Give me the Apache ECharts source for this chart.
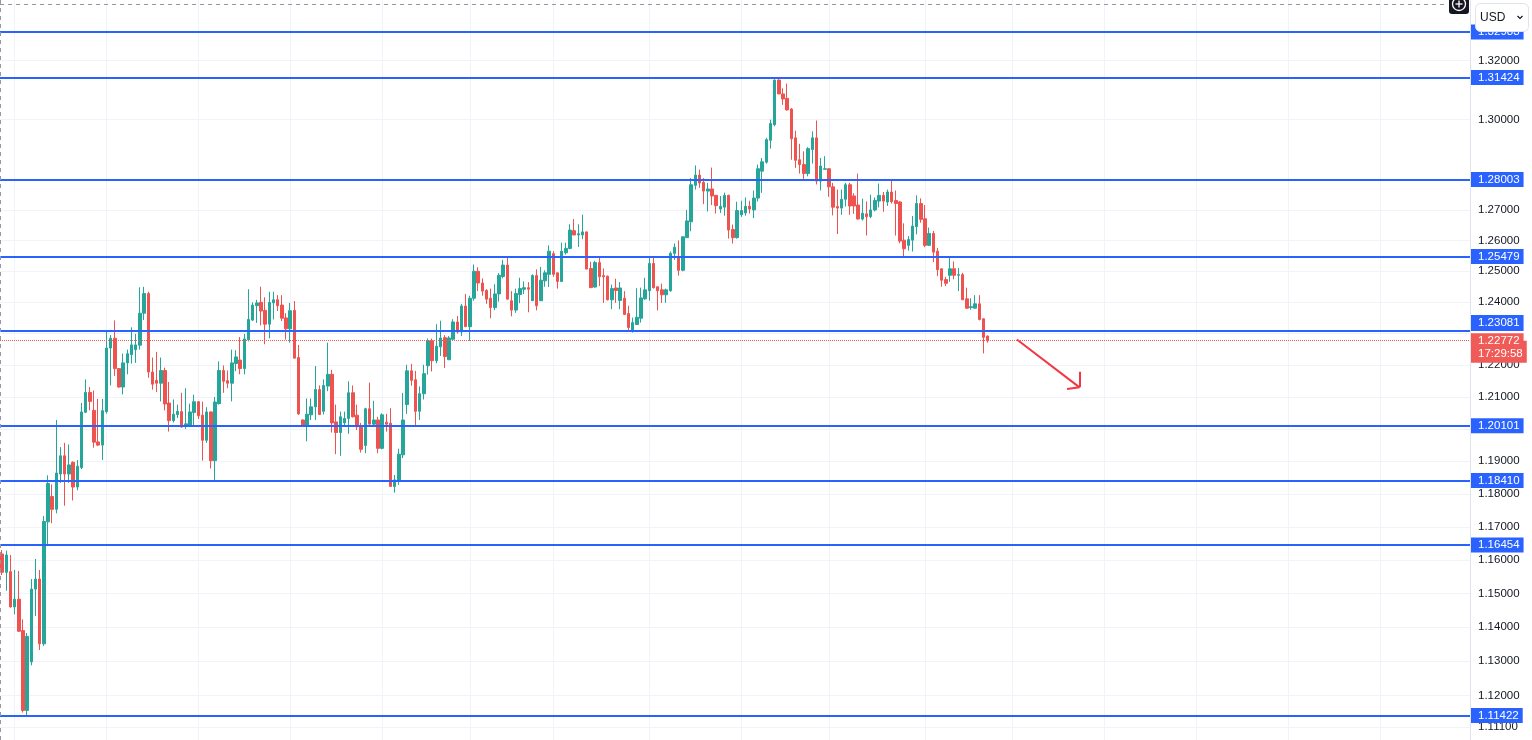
<!DOCTYPE html>
<html><head><meta charset="utf-8">
<script src="https://cdn.jsdelivr.net/npm/echarts@6/dist/echarts.min.js"></script>
<style>html,body{margin:0;padding:0;background:#fff;overflow:hidden}#c{width:1532px;height:740px}</style>
</head><body><div id="c"></div>
<script>
const opens = [1.1618,1.1563,1.1565,1.1460,1.1483,1.1390,1.1157,1.1298,1.1513,1.1543,1.1351,1.1715,1.1792,1.1753,1.1861,1.1917,1.1861,1.1897,1.1821,1.1881,
1.2052,1.2114,1.2058,1.1960,1.1950,1.2054,1.2254,1.2285,1.2189,1.2131,1.2207,1.2233,1.2249,1.2263,1.2365,1.2428,1.2178,1.2152,1.2143,1.2183,
1.2081,1.2026,1.2045,1.2054,1.2009,1.2009,1.2051,1.2085,1.2043,1.1965,1.2053,1.1902,1.2079,1.2183,1.2151,1.2143,1.2205,1.2216,1.2189,1.2280,
1.2343,1.2389,1.2400,1.2374,1.2330,1.2398,1.2408,1.2391,1.2350,1.2315,1.2374,1.2224,1.2028,1.2009,1.2044,1.2069,1.2123,1.2055,1.2134,1.2171,
1.2022,1.1989,1.2019,1.2033,1.2113,1.2043,1.2011,1.1949,1.2063,1.2015,1.2028,1.1940,1.2021,1.2018,1.1823,1.1843,1.1920,1.2076,1.2182,1.2154,
1.2055,1.2110,1.2198,1.2277,1.2214,1.2258,1.2287,1.2217,1.2282,1.2337,1.2305,1.2388,1.2322,1.2413,1.2500,1.2462,1.2438,1.2413,1.2383,1.2427,
1.2483,1.2520,1.2405,1.2375,1.2425,1.2442,1.2447,1.2405,1.2486,1.2405,1.2469,1.2490,1.2557,1.2495,1.2467,1.2560,1.2574,1.2632,1.2618,1.2618,
1.2628,1.2509,1.2449,1.2528,1.2486,1.2484,1.2408,1.2446,1.2406,1.2413,1.2364,1.2309,1.2329,1.2349,1.2411,1.2437,1.2525,1.2450,1.2440,1.2424,
1.2437,1.2558,1.2548,1.2503,1.2609,1.2661,1.2781,1.2815,1.2791,1.2762,1.2769,1.2748,1.2703,1.2709,1.2748,1.2636,1.2609,1.2684,1.2690,1.2712,
1.2700,1.2739,1.2828,1.2858,1.2931,1.2983,1.3134,1.3087,1.3072,1.3036,1.2939,1.2866,1.2850,1.2820,1.2900,1.2939,1.2795,1.2834,1.2836,1.2776,
1.2711,1.2706,1.2735,1.2783,1.2746,1.2716,1.2670,1.2687,1.2678,1.2700,1.2729,1.2748,1.2726,1.2759,1.2731,1.2726,1.2601,1.2584,1.2601,1.2645,
1.2721,1.2671,1.2584,1.2623,1.2565,1.2508,1.2473,1.2487,1.2508,1.2487,1.2489,1.2411,1.2383,1.2381,1.2395,1.2347,1.2292];
const highs = [1.1630,1.1628,1.1615,1.1570,1.1567,1.1423,1.1383,1.1543,1.1603,1.1570,1.1733,1.1857,1.1829,1.2028,1.1944,1.1957,1.1952,1.1900,1.1904,1.2081,
1.2155,1.2131,1.2120,1.2094,1.2094,1.2311,1.2295,1.2342,1.2189,1.2236,1.2249,1.2320,1.2299,1.2448,1.2450,1.2434,1.2224,1.2242,1.2224,1.2192,
1.2147,1.2092,1.2076,1.2113,1.2127,1.2079,1.2107,1.2087,1.2085,1.2068,1.2055,1.2100,1.2212,1.2199,1.2183,1.2249,1.2247,1.2289,1.2299,1.2442,
1.2400,1.2408,1.2450,1.2416,1.2434,1.2434,1.2423,1.2423,1.2365,1.2398,1.2404,1.2264,1.2030,1.2095,1.2095,1.2197,1.2136,1.2155,1.2271,1.2185,
1.2076,1.2054,1.2054,1.2149,1.2136,1.2076,1.2019,1.2066,1.2145,1.2088,1.2038,1.2049,1.2047,1.2065,1.1858,1.1939,1.2112,1.2201,1.2204,1.2182,
1.2133,1.2201,1.2284,1.2284,1.2330,1.2341,1.2295,1.2292,1.2346,1.2356,1.2395,1.2427,1.2421,1.2522,1.2513,1.2477,1.2442,1.2444,1.2458,1.2494,
1.2537,1.2546,1.2436,1.2444,1.2479,1.2467,1.2465,1.2490,1.2506,1.2514,1.2503,1.2584,1.2565,1.2495,1.2593,1.2593,1.2653,1.2670,1.2653,1.2684,
1.2628,1.2531,1.2534,1.2546,1.2509,1.2486,1.2457,1.2476,1.2465,1.2436,1.2389,1.2351,1.2445,1.2447,1.2479,1.2543,1.2543,1.2450,1.2460,1.2444,
1.2564,1.2590,1.2600,1.2612,1.2700,1.2805,1.2847,1.2833,1.2805,1.2789,1.2840,1.2748,1.2746,1.2757,1.2750,1.2652,1.2727,1.2730,1.2741,1.2730,
1.2764,1.2850,1.2872,1.2939,1.3000,1.3136,1.3137,1.3106,1.3122,1.3039,1.2963,1.2919,1.2894,1.2908,1.2961,1.2997,1.2872,1.2878,1.2838,1.2789,
1.2767,1.2767,1.2789,1.2789,1.2755,1.2820,1.2737,1.2728,1.2750,1.2741,1.2787,1.2759,1.2767,1.2800,1.2764,1.2729,1.2656,1.2614,1.2680,1.2748,
1.2738,1.2716,1.2642,1.2631,1.2576,1.2508,1.2482,1.2546,1.2532,1.2511,1.2495,1.2447,1.2413,1.2423,1.2423,1.2349,1.2294];
const lows = [1.1555,1.1508,1.1458,1.1438,1.1386,1.1151,1.1142,1.1288,1.1433,1.1333,1.1345,1.1645,1.1711,1.1741,1.1834,1.1764,1.1834,1.1780,1.1811,1.1876,
1.2050,1.2058,1.1942,1.1947,1.1904,1.2048,1.2136,1.2166,1.2129,1.2108,1.2171,1.2205,1.2207,1.2249,1.2343,1.2160,1.2123,1.2115,1.2086,1.2058,
1.1992,1.2020,1.2034,1.2004,1.2000,1.2007,1.2009,1.2031,1.1902,1.1957,1.1878,1.1841,1.2076,1.2113,1.2127,1.2086,1.2181,1.2171,1.2171,1.2275,
1.2340,1.2334,1.2326,1.2266,1.2285,1.2345,1.2372,1.2340,1.2281,1.2271,1.2222,1.2044,1.2007,1.1962,1.2028,1.2028,1.2045,1.2045,1.2118,1.1989,
1.1922,1.1917,1.2007,1.1985,1.2036,1.1997,1.1927,1.1925,1.2015,1.2007,1.1925,1.1937,1.1992,1.1823,1.1804,1.1828,1.1910,1.2047,1.2135,1.2010,
1.2028,1.2092,1.2170,1.2180,1.2206,1.2229,1.2191,1.2217,1.2279,1.2300,1.2292,1.2322,1.2277,1.2405,1.2436,1.2421,1.2395,1.2349,1.2375,1.2402,
1.2477,1.2410,1.2355,1.2366,1.2397,1.2426,1.2368,1.2405,1.2374,1.2405,1.2450,1.2449,1.2482,1.2444,1.2465,1.2554,1.2571,1.2617,1.2579,1.2604,
1.2507,1.2447,1.2447,1.2452,1.2398,1.2406,1.2378,1.2398,1.2378,1.2359,1.2305,1.2303,1.2327,1.2335,1.2408,1.2405,1.2444,1.2374,1.2398,1.2398,
1.2434,1.2537,1.2486,1.2500,1.2609,1.2630,1.2767,1.2773,1.2719,1.2695,1.2716,1.2688,1.2690,1.2681,1.2606,1.2590,1.2606,1.2677,1.2681,1.2688,
1.2673,1.2728,1.2756,1.2853,1.2903,1.2978,1.3087,1.3050,1.3031,1.2866,1.2839,1.2820,1.2798,1.2811,1.2853,1.2784,1.2764,1.2834,1.2743,1.2682,
1.2621,1.2684,1.2711,1.2684,1.2687,1.2669,1.2665,1.2616,1.2673,1.2695,1.2708,1.2694,1.2713,1.2721,1.2616,1.2591,1.2546,1.2567,1.2564,1.2620,
1.2658,1.2578,1.2584,1.2529,1.2484,1.2450,1.2452,1.2466,1.2474,1.2436,1.2408,1.2379,1.2376,1.2381,1.2342,1.2237,1.2271];
const closes = [1.1563,1.1615,1.1460,1.1483,1.1388,1.1157,1.1373,1.1513,1.1543,1.1351,1.1716,1.1832,1.1753,1.1864,1.1917,1.1861,1.1889,1.1821,1.1885,1.2053,
1.2114,1.2086,1.1959,1.1950,1.2057,1.2254,1.2285,1.2189,1.2131,1.2207,1.2236,1.2264,1.2264,1.2365,1.2428,1.2178,1.2140,1.2143,1.2183,1.2078,
1.2026,1.2046,1.2055,1.2006,1.2016,1.2053,1.2085,1.2041,1.1965,1.2053,1.1902,1.2084,1.2183,1.2149,1.2143,1.2207,1.2226,1.2189,1.2283,1.2345,
1.2391,1.2398,1.2372,1.2330,1.2400,1.2408,1.2389,1.2349,1.2315,1.2373,1.2222,1.2047,1.2009,1.2046,1.2069,1.2123,1.2045,1.2136,1.2171,1.2019,
1.1989,1.2038,1.2033,1.2113,1.2038,1.2007,1.1937,1.2063,1.2015,1.2028,1.1940,1.2044,1.2015,1.1823,1.1843,1.1922,1.2028,1.2182,1.2152,1.2055,
1.2110,1.2173,1.2277,1.2214,1.2260,1.2286,1.2227,1.2286,1.2337,1.2305,1.2388,1.2322,1.2413,1.2500,1.2462,1.2436,1.2410,1.2383,1.2427,1.2487,
1.2520,1.2410,1.2375,1.2428,1.2444,1.2447,1.2442,1.2486,1.2389,1.2471,1.2495,1.2565,1.2490,1.2467,1.2565,1.2574,1.2634,1.2618,1.2622,1.2628,
1.2507,1.2447,1.2528,1.2482,1.2482,1.2408,1.2444,1.2438,1.2446,1.2361,1.2319,1.2335,1.2352,1.2414,1.2440,1.2525,1.2447,1.2437,1.2424,1.2440,
1.2558,1.2578,1.2503,1.2612,1.2664,1.2783,1.2815,1.2789,1.2762,1.2769,1.2746,1.2714,1.2712,1.2748,1.2634,1.2609,1.2698,1.2698,1.2712,1.2703,
1.2739,1.2836,1.2859,1.2933,1.2987,1.3134,1.3087,1.3070,1.3033,1.2936,1.2864,1.2850,1.2820,1.2903,1.2939,1.2795,1.2845,1.2836,1.2776,1.2709,
1.2706,1.2735,1.2783,1.2713,1.2713,1.2670,1.2689,1.2678,1.2700,1.2731,1.2748,1.2729,1.2759,1.2727,1.2721,1.2598,1.2573,1.2603,1.2647,1.2721,
1.2669,1.2584,1.2623,1.2562,1.2505,1.2471,1.2461,1.2508,1.2487,1.2489,1.2408,1.2381,1.2386,1.2395,1.2345,1.2288,1.2277];

const levels = [1.32983, 1.31424, 1.28003, 1.25479, 1.23081, 1.20101, 1.18410, 1.16454, 1.11422];
const raisedLabelLevels = [1.23081];
const gridTicks = [1.32, 1.30, 1.28, 1.27, 1.26, 1.25, 1.24, 1.23, 1.22, 1.21, 1.20, 1.19, 1.18, 1.17, 1.16, 1.15, 1.14, 1.13, 1.12, 1.111];
const tickLabels = [1.32, 1.30, 1.27, 1.26, 1.25, 1.24, 1.22, 1.21, 1.19, 1.18, 1.17, 1.16, 1.15, 1.14, 1.13, 1.12, 1.111];
const lastPrice = 1.22772;
const countdown = '17:29:58';
const monthStartBars = [3, 25, 47, 69, 91, 112, 132, 155, 177, 198, 221, 242, 264, 286, 308, 330];
const arrowLine = [[243, 1.2281], [258.4, 1.2130]];
const arrowHeadA = [[254.7, 1.2125], [258.4, 1.2130]];
const arrowHeadB = [[257.7, 1.2179], [258.4, 1.2130]];
const totalSlots = 352;
const priceRange = [1.1072, 1.3409];

const L = Math.log;
const cats = Array.from({length: totalSlots}, (_, i) => String(i));
const candleData = opens.map((o, i) => [L(o), L(closes[i]), L(lows[i]), L(highs[i])]);

const FONT = '"Liberation Sans", Arial, sans-serif';
const BLUE = '#2962ff', UP = '#26a69a', DOWN = '#ef5350', CUR = '#f05a57';

const gridLineData = gridTicks.map(p => ({
  yAxis: L(p),
  label: { show: tickLabels.includes(p), formatter: p.toFixed(5) }
})).concat(monthStartBars.map(i => ({ xAxis: i, label: { show: false } })));

const levelData = levels.map(p => ({
  yAxis: L(p),
  label: raisedLabelLevels.includes(p)
    ? { formatter: p.toFixed(5), verticalAlign: 'bottom', padding: [2, 4, 2, 7] }
    : { formatter: p.toFixed(5) }
}));

const toC = pt => ({ coord: [pt[0], L(pt[1])] });

const chart = echarts.init(document.getElementById('c'), null, { renderer: 'canvas' });
chart.setOption({
  animation: false,
  backgroundColor: '#ffffff',
  textStyle: { fontFamily: FONT },
  grid: { left: 0, right: 62, top: 0, bottom: 0 },
  xAxis: {
    type: 'category', data: cats, boundaryGap: true,
    axisLine: { show: false }, axisTick: { show: false }, axisLabel: { show: false }, splitLine: { show: false }
  },
  yAxis: {
    type: 'value', position: 'right', min: L(priceRange[0]), max: L(priceRange[1]), scale: true,
    axisLine: { show: true, lineStyle: { color: '#e0e3eb', width: 1 } },
    axisTick: { show: false }, axisLabel: { show: false }, splitLine: { show: false }
  },
  series: [
    {
      type: 'line', data: [], silent: true,
      markLine: {
        z: 1, silent: true, symbol: 'none', animation: false, precision: 12,
        lineStyle: { color: '#f0f3fa', width: 1, type: 'solid' },
        label: { position: 'end', distance: 8, color: '#131722', fontSize: 11.5, fontFamily: FONT },
        emphasis: { disabled: true },
        data: gridLineData
      }
    },
    {
      type: 'candlestick', z: 3, silent: true,
      data: candleData, barWidth: 3,
      itemStyle: { color: UP, color0: DOWN, borderColor: UP, borderColor0: DOWN, borderWidth: 1 }
    },
    {
      type: 'line', data: [], silent: true,
      markLine: {
        z: 6, silent: true, symbol: 'none', animation: false, precision: 12,
        lineStyle: { color: BLUE, width: 2, type: 'solid' },
        label: { position: 'end', distance: 1, color: '#ffffff', backgroundColor: BLUE,
                 padding: [2, 4, 1, 7], fontSize: 11.5, fontFamily: FONT },
        emphasis: { disabled: true },
        data: levelData
      }
    },
    {
      type: 'line', data: [], silent: true,
      markLine: {
        z: 7, silent: true, symbol: 'none', animation: false, precision: 12,
        emphasis: { disabled: true },
        data: [
          { yAxis: L(lastPrice), lineStyle: { color: 'rgba(0,0,0,0)', width: 0 },
            label: { position: 'end', distance: 1, verticalAlign: 'top', formatter: countdown, opacity: 1,
              color: '#ffffff', backgroundColor: CUR, padding: [7, 4, 3, 7], fontSize: 11.5, fontFamily: FONT } },
          { yAxis: L(lastPrice), lineStyle: { color: CUR, width: 1, type: 'dotted' },
            label: { position: 'end', distance: 1, formatter: lastPrice.toFixed(5), opacity: 1,
              color: '#ffffff', backgroundColor: CUR, padding: [2, 4, 1, 7], fontSize: 11.5, fontFamily: FONT } }
        ]
      }
    },
    {
      type: 'line', data: [], silent: true,
      markLine: {
        z: 6, silent: true, symbol: 'none', animation: false, precision: 12,
        lineStyle: { color: '#f23645', width: 2, type: 'solid' },
        label: { show: false },
        emphasis: { disabled: true },
        data: [
          [toC(arrowLine[0]), toC(arrowLine[1])],
          [toC(arrowHeadA[0]), toC(arrowHeadA[1])],
          [toC(arrowHeadB[0]), toC(arrowHeadB[1])]
        ]
      }
    }
  ],
  graphic: [
    { type: 'line', z: 50, silent: true, shape: { x1: 0, y1: 4.5, x2: 1447, y2: 4.5 }, style: { stroke: '#9598a1', lineWidth: 1, lineDash: [4, 4] } },
    { type: 'line', z: 50, silent: true, shape: { x1: 0.5, y1: 0, x2: 0.5, y2: 740 }, style: { stroke: '#9598a1', lineWidth: 1, lineDash: [4, 4] } },
    { type: 'rect', z: 60, silent: true, shape: { x: 1449, y: -6, width: 20, height: 20, r: 3 }, style: { fill: '#131722' } },
    { type: 'circle', z: 61, silent: true, shape: { cx: 1459, cy: 4, r: 6.5 }, style: { fill: 'none', stroke: '#ffffff', lineWidth: 1.3 } },
    { type: 'line', z: 61, silent: true, shape: { x1: 1455.5, y1: 4, x2: 1462.5, y2: 4 }, style: { stroke: '#ffffff', lineWidth: 1.3 } },
    { type: 'line', z: 61, silent: true, shape: { x1: 1459, y1: 0.5, x2: 1459, y2: 7.5 }, style: { stroke: '#ffffff', lineWidth: 1.3 } },
    { type: 'rect', z: 60, silent: true, shape: { x: 1475.5, y: 3.5, width: 53, height: 28, r: 5 }, style: { fill: '#ffffff', stroke: '#e0e3eb', lineWidth: 1 } },
    { type: 'text', z: 61, silent: true, style: { x: 1480, y: 17.5, text: 'USD', fill: '#131722', fontSize: 12, fontFamily: FONT, verticalAlign: 'middle' } },
    { type: 'polyline', z: 61, silent: true, shape: { points: [[1517.5, 16], [1520, 18.5], [1522.5, 16]] }, style: { fill: 'none', stroke: '#131722', lineWidth: 1.2 } }
  ]
});
</script>
</body></html>
